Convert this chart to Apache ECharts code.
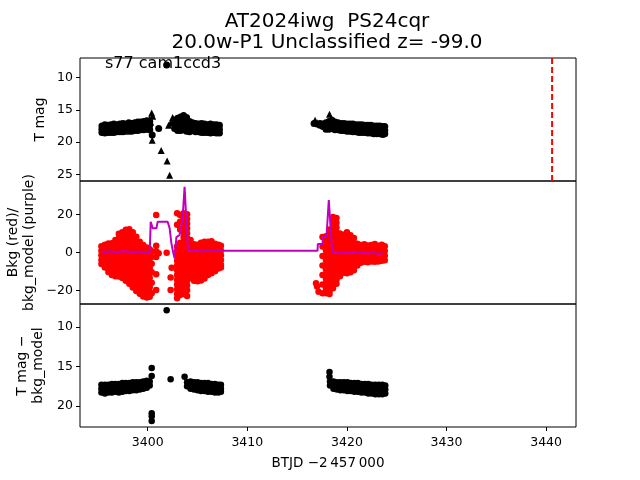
<!DOCTYPE html>
<html>
<head>
<meta charset="utf-8">
<script src="https://cdn.jsdelivr.net/npm/echarts@6/dist/echarts.min.js"></script>
<style>html,body{margin:0;padding:0;background:#fff}#c{width:640px;height:480px}</style>
</head>
<body>
<div id="c"></div>
<script>
// ---------------- DATA ----------------
const titleLines = ['AT2024iwg  PS24cqr', '20.0w-P1 Unclassified z= -99.0'];
const annotation = 's77 cam1ccd3';
const xLabel = 'BTJD \u22122\u2009457\u2009000';
const yLabelTop = 'T mag';
const yLabelMid = ['Bkg (red)/', 'bkg_model (purple)'];
const yLabelBot = ['T mag \u2212', 'bkg_model'];

const xTicks = [3400, 3410, 3420, 3430, 3440];
const magTicks = [10, 15, 20, 25];
const bkgTicks = [-20, 0, 20];
const diffTicks = [10, 15, 20];

// Top panel: T mag detections (circles), columns [x, y1, y2, ...]
const magDots = [
  [3395.4, 17.5, 18.0, 18.5], [3395.7, 17.3, 17.9, 18.6], [3396.0, 17.4, 18.0, 18.5],
  [3396.3, 17.3, 17.9, 18.5], [3396.6, 17.2, 17.8, 18.5], [3396.9, 17.3, 17.9, 18.4],
  [3397.2, 17.2, 17.8, 18.4], [3397.5, 17.1, 17.7, 18.4], [3397.8, 17.2, 17.8, 18.3],
  [3398.1, 17.0, 17.7, 18.3], [3398.4, 17.1, 17.7, 18.3], [3398.7, 17.0, 17.6, 18.2],
  [3399.0, 16.9, 17.6, 18.2], [3399.3, 16.9, 17.5, 18.1], [3399.6, 16.8, 17.5, 18.1],
  [3399.9, 16.7, 17.4, 18.0], [3400.2, 16.8, 17.4, 18.1],
  [3400.45, 18.9], [3401.1, 17.9], [3401.9, 8.1],
  [3402.7, 16.6, 17.3, 17.9], [3403.0, 16.3, 17.0, 17.7, 18.2], [3403.3, 16.1, 16.8, 17.5, 18.2],
  [3403.6, 15.9, 16.6, 17.3, 18.1], [3403.9, 16.2, 16.9, 17.6, 18.3], [3404.2, 16.8, 17.4, 18.0, 18.4],
  [3404.5, 17.0, 17.6, 18.2], [3404.8, 17.1, 17.7, 18.4], [3405.1, 17.2, 17.8, 18.4],
  [3405.4, 17.1, 17.8, 18.5], [3405.7, 17.2, 17.9, 18.5], [3406.0, 17.3, 17.9, 18.5],
  [3406.3, 17.2, 17.9, 18.6], [3406.6, 17.3, 17.9, 18.5], [3406.9, 17.3, 18.0, 18.6],
  [3407.2, 17.4, 18.0, 18.6],
  [3416.7, 17.1], [3417.0, 17.2], [3417.3, 17.1, 17.4], [3417.6, 17.2, 17.6],
  [3417.9, 17.0, 17.5, 18.0], [3418.2, 16.8, 17.4, 18.0], [3418.5, 16.6, 17.3, 17.9],
  [3418.8, 16.9, 17.5, 18.1], [3419.1, 17.0, 17.5, 18.1], [3419.4, 17.1, 17.6, 18.2],
  [3419.7, 17.1, 17.7, 18.2], [3420.0, 17.2, 17.7, 18.3], [3420.3, 17.2, 17.8, 18.3],
  [3420.6, 17.2, 17.8, 18.4], [3420.9, 17.3, 17.9, 18.4], [3421.2, 17.3, 17.9, 18.5],
  [3421.5, 17.3, 17.9, 18.5], [3421.8, 17.4, 18.0, 18.5], [3422.1, 17.4, 18.0, 18.6],
  [3422.4, 17.4, 18.0, 18.6], [3422.7, 17.5, 18.1, 18.7], [3423.0, 17.5, 18.1, 18.7],
  [3423.3, 17.5, 18.1, 18.7], [3423.6, 17.6, 18.2, 18.8], [3423.8, 17.6, 18.2, 18.7]
];
// Top panel: upper limits (triangles)
const magLimits = [
  [3400.2, 16.4], [3400.4, 15.5], [3400.5, 16.0], [3400.3, 16.9],
  [3400.45, 19.7], [3401.35, 21.3], [3401.95, 22.9], [3402.2, 25.1],
  [3402.1, 17.4], [3402.3, 17.0], [3402.5, 16.2],
  [3416.8, 16.6], [3417.0, 17.0], [3418.25, 15.7]
];
const eventTime = 3440.6;

// Middle panel: background flux (red), columns [x, y1, y2, ...]
const bkgCols = [
  [3395.35, 3.2, 0.8, -1.6, -4.0, -6.2],
  [3395.7, 4.0, 1.5, -1.0, -3.5, -6.0, -8.0],
  [3396.05, 4.6, 2.1, -0.4, -2.9, -5.4, -7.9, -10.4],
  [3396.4, 4.8, 2.3, -0.2, -2.7, -5.2, -7.7, -10.2, -12.0],
  [3396.75, 6.5, 4.0, 1.5, -1.0, -3.5, -6.0, -8.5, -11.0, -12.6],
  [3397.1, 9.8, 7.3, 4.8, 2.3, -0.2, -2.7, -5.2, -7.7, -10.2, -12.8],
  [3397.45, 10.5, 8.0, 5.5, 3.0, 0.5, -2.0, -4.5, -7.0, -9.5, -12.0, -13.5],
  [3397.8, 11.9, 9.4, 6.9, 4.4, 1.9, -0.6, -3.1, -5.6, -8.1, -10.6, -13.1, -15.0],
  [3398.15, 12.1, 9.6, 7.1, 4.6, 2.1, -0.4, -2.9, -5.4, -7.9, -10.4, -12.9, -15.4, -16.5],
  [3398.5, 10.6, 8.1, 5.6, 3.1, 0.6, -1.9, -4.4, -6.9, -9.4, -11.9, -14.4, -16.9, -18.5],
  [3398.85, 8.2, 5.7, 3.2, 0.7, -1.8, -4.3, -6.8, -9.3, -11.8, -14.3, -16.8, -19.3, -20.4],
  [3399.2, 5.5, 3.0, 0.5, -2.0, -4.5, -7.0, -9.5, -12.0, -14.5, -17.0, -19.5, -21.8],
  [3399.55, 3.8, 1.3, -1.2, -3.7, -6.2, -8.7, -11.2, -13.7, -16.2, -18.7, -21.2, -23.3],
  [3399.9, 2.5, 0.0, -2.5, -5.0, -7.5, -10.0, -12.5, -15.0, -17.5, -20.0, -22.5, -23.8],
  [3400.2, 1.6, -0.9, -3.4, -5.9, -8.4, -10.9, -13.4, -15.9, -18.4, -20.9, -23.4],
  [3400.4, 0.5, -2.5, -6.0, -10.5, -16.0, -21.5],
  [3400.85, 19.6, 3.5, 0.5, -2.5, -11.6, -19.8],
  [3401.1, -0.5], [3401.9, -0.2], [3402.3, -13.2, -19.8], [3402.4, -8.1],
  [3402.95, 20.5, 14.5, 3.0, 0.5, -2.0, -4.5, -7.0, -9.5, -12.0, -14.5, -17.0, -19.5, -22.0, -24.2],
  [3403.25, 19.6, 16.0, 12.0, 5.0, 2.5, 0.0, -2.5, -5.0, -7.5, -10.0, -12.5, -15.0, -17.5, -20.0, -22.5],
  [3403.6, 20.5, 18.0, 15.5, 13.0, 10.5, 8.0, 5.5, 3.0, 0.5, -2.0, -4.5, -7.0, -9.5, -12.0, -14.5, -17.0, -19.5, -22.0],
  [3403.95, 20.0, 17.5, 15.0, 12.5, 10.0, 7.5, 5.0, 2.5, 0.0, -2.5, -5.0, -7.5, -10.0, -12.5, -15.0, -17.5, -20.0, -23.0],
  [3404.3, 6.5, 4.0, 1.5, -1.0, -3.5, -6.0, -8.5, -11.0, -13.5],
  [3404.65, 4.2, 1.7, -0.8, -3.3, -5.8, -8.3, -10.8, -13.3, -15.0],
  [3405.0, 4.0, 1.5, -1.0, -3.5, -6.0, -8.5, -11.0, -13.5, -15.2],
  [3405.35, 5.0, 2.5, 0.0, -2.5, -5.0, -7.5, -10.0, -12.5, -14.8],
  [3405.7, 5.6, 3.1, 0.6, -1.9, -4.4, -6.9, -9.4, -11.9, -13.8],
  [3406.05, 5.5, 3.0, 0.5, -2.0, -4.5, -7.0, -9.5, -12.0],
  [3406.4, 5.8, 3.3, 0.8, -1.7, -4.2, -6.7, -9.2, -11.0],
  [3406.75, 4.5, 2.0, -0.5, -3.0, -5.5, -8.0, -10.0],
  [3407.1, 4.0, 1.5, -1.0, -3.5, -6.0, -8.5],
  [3407.35, 3.5, 1.0, -1.5, -4.0, -6.5, -8.0],
  [3416.9, -16.3], [3417.0, -18.0], [3417.15, -20.7],
  [3417.55, 8.0, 3.0, -2.0, -7.0, -12.0, -17.0, -21.5],
  [3417.9, 8.5, 6.0, 3.5, 1.0, -1.5, -4.0, -6.5, -9.0, -11.5, -14.0, -16.5, -19.0, -21.5],
  [3418.25, 12.0, 9.5, 7.0, 4.5, 2.0, -0.5, -3.0, -5.5, -8.0, -10.5, -13.0, -15.5, -18.0, -20.5, -22.0],
  [3418.6, 18.6, 16.1, 13.6, 11.1, 8.6, 6.1, 3.6, 1.1, -1.4, -3.9, -6.4, -8.9, -11.4, -13.9, -16.4, -18.9],
  [3418.95, 18.0, 15.5, 13.0, 10.5, 8.0, 5.5, 3.0, 0.5, -2.0, -4.5, -7.0, -9.5, -12.0, -14.5, -16.5],
  [3419.3, 9.9, 7.4, 4.9, 2.4, -0.1, -2.6, -5.1, -7.6, -10.1, -12.6],
  [3419.65, 9.2, 6.7, 4.2, 1.7, -0.8, -3.3, -5.8, -8.3, -10.8],
  [3420.0, 10.5, 8.0, 5.5, 3.0, 0.5, -2.0, -4.5, -7.0, -9.5, -11.0],
  [3420.35, 9.0, 6.5, 4.0, 1.5, -1.0, -3.5, -6.0, -8.5, -10.5],
  [3420.7, 7.5, 5.0, 2.5, 0.0, -2.5, -5.0, -7.5, -9.5],
  [3421.05, 4.5, 2.0, -0.5, -3.0, -5.5, -7.0],
  [3421.4, 3.8, 1.3, -1.2, -3.7, -5.5],
  [3421.75, 4.2, 1.7, -0.8, -3.3, -5.0],
  [3422.1, 3.6, 1.1, -1.4, -3.9, -5.2],
  [3422.45, 3.8, 1.3, -1.2, -3.7, -4.8],
  [3422.8, 4.3, 1.8, -0.7, -3.2, -5.0],
  [3423.15, 3.5, 1.0, -1.5, -4.0, -4.9],
  [3423.5, 4.0, 1.5, -1.0, -3.5, -4.5],
  [3423.8, 3.2, 0.7, -1.8, -4.2]
];
// Middle panel: background model (purple line)
const bkgModel = [
  [3395.3, 0.5], [3395.8, 0.2], [3396.3, 0.6], [3396.8, -0.2], [3397.3, 0.4], [3397.8, 0.5],
  [3398.3, 0.1], [3398.8, 0.4], [3399.3, 0.3], [3399.8, -0.3], [3400.2, 0.2],
  [3400.3, 16.1], [3400.4, 16.1], [3400.5, 12.6], [3400.87, 12.6], [3401.0, 16.1], [3402.0, 16.1],
  [3402.2, 12.6], [3402.38, 4.7], [3402.55, 0.0], [3402.7, -3.2], [3402.88, 8.0], [3403.2, 9.1],
  [3403.5, 17.9], [3403.7, 34.5], [3403.88, 34.5], [3404.04, 0.8],
  [3404.5, 0.5], [3405.0, 1.0], [3405.5, 0.4], [3406.0, 0.9], [3406.5, 0.6], [3407.0, 0.9], [3407.4, 0.8],
  [3417.05, 0.8], [3417.08, 4.4], [3417.55, 4.4], [3417.6, 8.2], [3417.95, 8.2],
  [3418.18, 27.5], [3418.32, 27.5], [3418.52, 0.3],
  [3419.0, -0.5], [3419.5, 0.2], [3420.0, -0.6], [3420.5, -0.2], [3421.0, -0.5], [3421.5, 0.1],
  [3422.0, -0.6], [3422.5, -0.3], [3423.0, -0.8], [3423.6, -0.5]
];

// Bottom panel: T mag - bkg_model, columns [x, y1, y2, ...]
const diffCols = [
  [3395.35, 17.3, 17.8, 18.3], [3395.7, 17.3, 17.8, 18.4], [3396.05, 17.3, 17.9, 18.3],
  [3396.4, 17.2, 17.8, 18.3], [3396.75, 17.2, 17.7, 18.2], [3397.1, 17.2, 17.8, 18.3],
  [3397.45, 17.1, 17.7, 18.2], [3397.8, 17.1, 17.6, 18.1], [3398.15, 17.1, 17.6, 18.1],
  [3398.5, 17.0, 17.5, 18.0], [3398.85, 17.0, 17.5, 18.0], [3399.2, 17.0, 17.5, 17.9],
  [3399.55, 16.9, 17.3, 17.8], [3399.9, 16.8, 17.3, 17.7], [3400.2, 16.9, 17.4],
  [3400.4, 15.2, 16.2, 20.9, 21.3, 21.9], [3401.9, 7.9], [3402.3, 16.6], [3403.7, 16.3],
  [3403.95, 17.0, 17.5], [3404.3, 16.9, 17.4, 17.8], [3404.65, 17.0, 17.5, 17.9],
  [3405.0, 17.0, 17.5, 18.0], [3405.35, 17.1, 17.6, 18.1], [3405.7, 17.1, 17.6, 18.1],
  [3406.05, 17.1, 17.7, 18.2], [3406.4, 17.2, 17.7, 18.2], [3406.75, 17.2, 17.8, 18.3],
  [3407.1, 17.3, 17.8, 18.3], [3407.35, 17.3, 17.8, 18.2],
  [3418.25, 15.7, 16.3], [3418.3, 16.9, 17.4], [3418.65, 16.9, 17.4, 17.8],
  [3419.0, 17.0, 17.5, 17.9], [3419.35, 17.0, 17.5, 18.0], [3419.7, 17.0, 17.5, 18.0],
  [3420.05, 17.0, 17.6, 18.1], [3420.4, 17.1, 17.6, 18.1], [3420.75, 17.1, 17.7, 18.2],
  [3421.1, 17.1, 17.7, 18.2], [3421.45, 17.2, 17.7, 18.3], [3421.8, 17.2, 17.8, 18.3],
  [3422.15, 17.2, 17.8, 18.4], [3422.5, 17.3, 17.9, 18.4], [3422.85, 17.3, 17.9, 18.5],
  [3423.2, 17.3, 17.9, 18.5], [3423.55, 17.3, 17.9, 18.5], [3423.85, 17.4, 17.9, 18.4]
];

// ---------------- CHART ----------------
function cols(arr) {
  const out = [];
  arr.forEach(c => { for (let i = 1; i < c.length; i++) out.push([c[0], c[i]]); });
  return out;
}
const FONT = 'DejaVu Sans';
const fmt = v => String(v).replace('-', '\u2212');
const X_MIN = 3393.2, X_MAX = 3443.0;
const GRID_L = 80, GRID_R = 64, PANEL_H = 123;
const tops = [58, 181, 304];

const chart = echarts.init(document.getElementById('c'), null, { renderer: 'canvas' });

const xAxes = [0, 1, 2].map(i => ({
  gridIndex: i, type: 'value', min: X_MIN, max: X_MAX,
  axisLine: { show: false }, splitLine: { show: false },
  axisTick: { show: i === 2, length: 4, lineStyle: { color: '#000' }, customValues: xTicks },
  axisLabel: { show: i === 2, color: '#000', fontFamily: FONT, fontSize: 12.5, margin: 9, customValues: xTicks, formatter: fmt }
}));
function yAx(i, min, max, inverse, ticks) {
  return {
    gridIndex: i, type: 'value', min: min, max: max, inverse: inverse,
    axisLine: { show: false }, splitLine: { show: false },
    axisTick: { show: true, length: 4, lineStyle: { color: '#000' }, customValues: ticks },
    axisLabel: { show: true, color: '#000', fontFamily: FONT, fontSize: 12.5, margin: 7, customValues: ticks, formatter: fmt }
  };
}
const solid = c => ({ color: c, opacity: 1 });

const option = {
  animation: false,
  backgroundColor: '#fff',
  title: {
    text: titleLines.join('\n'), left: 322, top: 6, textAlign: 'center',
    textStyle: { fontFamily: FONT, fontSize: 20, fontWeight: 'normal', color: '#000', lineHeight: 21 }
  },
  grid: tops.map(t => ({ left: GRID_L, right: GRID_R, top: t, height: PANEL_H, show: true, borderColor: '#000', borderWidth: 1, backgroundColor: 'transparent' })),
  xAxis: xAxes,
  yAxis: [
    yAx(0, 7.0, 26.0, true, magTicks),
    yAx(1, -27.2, 37.5, false, bkgTicks),
    yAx(2, 7.1, 22.65, true, diffTicks)
  ],
  series: [
    { type: 'scatter', xAxisIndex: 0, yAxisIndex: 0, symbol: 'circle', symbolSize: 7, itemStyle: solid('#000'), data: cols(magDots) },
    { type: 'scatter', xAxisIndex: 0, yAxisIndex: 0, symbol: 'triangle', symbolSize: 7, itemStyle: solid('#000'), data: magLimits },
    { type: 'line', xAxisIndex: 0, yAxisIndex: 0, symbol: 'none', lineStyle: { color: '#ff0000', width: 2, type: [6, 3] }, data: [[eventTime, 7.0], [eventTime, 26.0]] },
    { type: 'scatter', xAxisIndex: 1, yAxisIndex: 1, symbol: 'circle', symbolSize: 6.5, itemStyle: solid('#ff0000'), data: cols(bkgCols) },
    { type: 'line', xAxisIndex: 1, yAxisIndex: 1, symbol: 'none', lineStyle: { color: '#bf00bf', width: 2 }, data: bkgModel },
    { type: 'scatter', xAxisIndex: 2, yAxisIndex: 2, symbol: 'circle', symbolSize: 6.5, itemStyle: solid('#000'), data: cols(diffCols) }
  ],
  graphic: [
    { type: 'text', left: 105, top: 56, z: 100, style: { text: annotation, fontFamily: FONT, fontSize: 16, fill: '#000' } },
    { type: 'text', x: 40, y: 119.5, rotation: Math.PI / 2, style: { text: yLabelTop, fontFamily: FONT, fontSize: 14, fill: '#000', textAlign: 'center', textVerticalAlign: 'middle' } },
    { type: 'text', x: 13, y: 242.5, rotation: Math.PI / 2, style: { text: yLabelMid[0], fontFamily: FONT, fontSize: 14, fill: '#000', textAlign: 'center', textVerticalAlign: 'middle' } },
    { type: 'text', x: 29, y: 242.5, rotation: Math.PI / 2, style: { text: yLabelMid[1], fontFamily: FONT, fontSize: 14, fill: '#000', textAlign: 'center', textVerticalAlign: 'middle' } },
    { type: 'text', x: 22, y: 365.5, rotation: Math.PI / 2, style: { text: yLabelBot[0], fontFamily: FONT, fontSize: 14, fill: '#000', textAlign: 'center', textVerticalAlign: 'middle' } },
    { type: 'text', x: 38, y: 365.5, rotation: Math.PI / 2, style: { text: yLabelBot[1], fontFamily: FONT, fontSize: 14, fill: '#000', textAlign: 'center', textVerticalAlign: 'middle' } },
    { type: 'text', x: 328, y: 463, style: { text: xLabel, fontFamily: FONT, fontSize: 13.5, fill: '#000', textAlign: 'center', textVerticalAlign: 'middle' } }
  ]
};
chart.setOption(option);
</script>
</body>
</html>
